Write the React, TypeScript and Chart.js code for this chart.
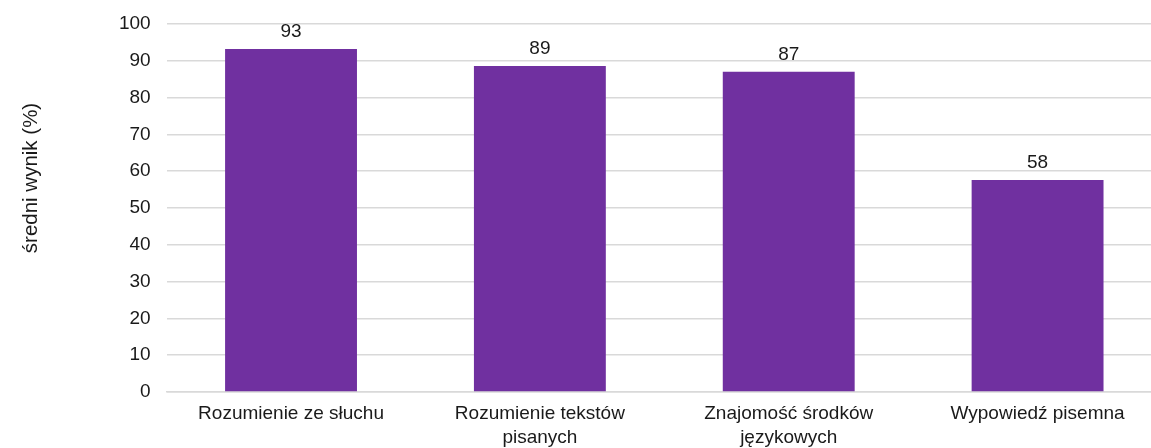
import React, { useEffect, useRef } from "react";
import { Chart, registerables } from "chart.js";

Chart.register(...registerables);

const categories: string[][] = [
  ["Rozumienie ze słuchu"],
  ["Rozumienie tekstów", "pisanych"],
  ["Znajomość środków", "językowych"],
  ["Wypowiedź pisemna"],
];
const values: number[] = [93.2, 88.6, 87.0, 57.6];
const valueLabels: string[] = ["93", "89", "87", "58"];
const yTitle = "średni wynik (%)";

const FONT = "'Liberation Sans', Arial, sans-serif";
const TEXT = "#1a1a1a";

const valueLabelPlugin = {
  id: "valueLabels",
  afterDatasetsDraw(chart: any) {
    const { ctx } = chart;
    const meta = chart.getDatasetMeta(0);
    ctx.save();
    ctx.font = `19px ${FONT}`;
    ctx.fillStyle = TEXT;
    ctx.textAlign = "center";
    ctx.textBaseline = "bottom";
    meta.data.forEach((bar: any, i: number) => {
      ctx.fillText(valueLabels[i], bar.x, bar.y - 8);
    });
    ctx.restore();
  },
};

const yTitlePlugin = {
  id: "yTitle",
  afterDraw(chart: any) {
    const { ctx } = chart;
    ctx.save();
    ctx.translate(31, 178);
    ctx.rotate(-Math.PI / 2);
    ctx.font = `20.5px ${FONT}`;
    ctx.fillStyle = TEXT;
    ctx.textAlign = "center";
    ctx.textBaseline = "middle";
    ctx.fillText(yTitle, 0, 0);
    ctx.restore();
  },
};

export default function App() {
  const ref = useRef<HTMLCanvasElement>(null);
  useEffect(() => {
    document.body.style.margin = "0";
    const chart = new Chart(ref.current!, {
      type: "bar",
      data: {
        labels: categories,
        datasets: [
          {
            data: values,
            backgroundColor: "#7030A0",
            borderWidth: 0,
            barPercentage: 0.53,
            categoryPercentage: 1,
          },
        ],
      },
      options: {
        animation: false,
        responsive: true,
        maintainAspectRatio: false,
        layout: { padding: { top: 24, right: 0, left: 0, bottom: 0 } },
        plugins: { legend: { display: false }, tooltip: { enabled: false } },
        scales: {
          x: {
            grid: { display: false, drawTicks: false },
            border: { display: true, color: "#d9d9d9", width: 1.5 },
            ticks: {
              color: TEXT,
              font: { family: FONT, size: 19, lineHeight: 1.22 },
              padding: 10.5,
              maxRotation: 0,
              autoSkip: false,
            },
            afterFit(scale: any) {
              scale.height = 56;
              scale.paddingLeft = 0;
              scale.paddingRight = 0;
            },
          },
          y: {
            min: 0,
            max: 100,
            ticks: {
              stepSize: 10,
              color: TEXT,
              font: { family: FONT, size: 19 },
              padding: 16,
            },
            grid: { color: "#d9d9d9", lineWidth: 1.5, drawTicks: false },
            border: { display: false },
            afterFit(scale: any) {
              scale.width = 166.6;
              scale.paddingTop = 0;
              scale.paddingBottom = 0;
            },
          },
        },
      },
      plugins: [valueLabelPlugin, yTitlePlugin],
    });
    return () => chart.destroy();
  }, []);
  return (
    <div style={{ position: "relative", width: 1151, height: 448, overflow: "hidden" }}>
      <div style={{ position: "relative", width: 1162, height: 448 }}>
        <canvas ref={ref} />
      </div>
    </div>
  );
}
